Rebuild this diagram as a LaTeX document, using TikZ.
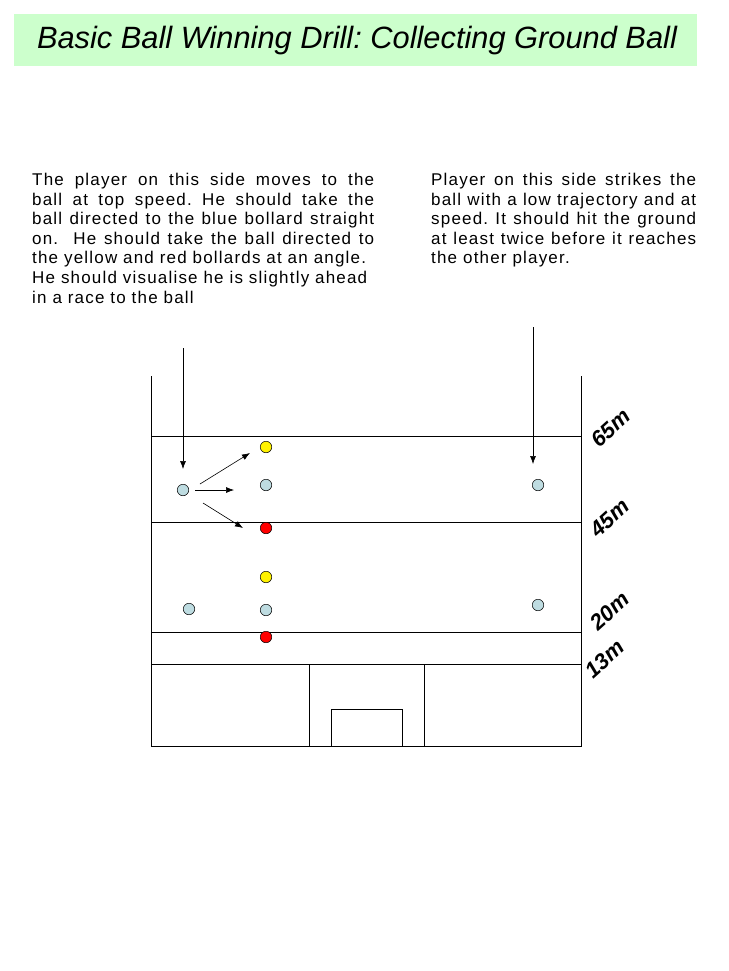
\documentclass[tikz,border=0pt]{standalone}
\usepackage{fontspec}
\setmainfont{Liberation Sans}
\newfontfamily\bodyf[LetterSpace=7]{Liberation Sans}
\usetikzlibrary{arrows.meta}
\frenchspacing
\newcommand{\jl}[1]{\makebox[342pt][s]{#1}\\}
\newcommand{\jr}[1]{\makebox[265pt][s]{#1}\\}
\begin{document}
\begin{tikzpicture}[x=1pt,y=-1pt,
  fld/.style={line width=0.9pt},
  ball/.style={circle,draw,line width=0.5pt,minimum size=11.5pt,inner sep=0pt},
  arr/.style={-{Latex[length=8pt,width=6pt]},line width=0.6pt},
  lbl/.style={font=\fontsize{22}{22}\selectfont\bfseries\itshape,rotate=42,inner sep=0pt}]
\useasboundingbox[fill=white] (0,0) rectangle (728,971);
\node[fill={rgb,255:red,204;green,255;blue,204},minimum width=683pt,minimum height=52pt,inner sep=0pt] (title) at (355.5,40) {};
\node[font=\fontsize{30.8}{30.8}\selectfont\itshape] (tt) at (357,41) {Basic Ball Winning Drill: Collecting Ground Ball};
\node[align=left,inner sep=0pt,anchor=north west,font=\bodyf\fontsize{17}{19.6}\selectfont] (lt) at (32,173)
{\jl{The player on this side moves to the}\jl{ball at top speed. He should take the}\jl{ball directed to the blue bollard straight}\jl{on.\ \ He should take the ball directed to}the yellow and red bollards at an angle.\\He should visualise he is slightly ahead\\in a race to the ball};
\node[align=left,inner sep=0pt,anchor=north west,font=\bodyf\fontsize{17}{19.6}\selectfont] (rt) at (431,173)
{\jr{Player on this side strikes the}\jr{ball with a low trajectory and at}\jr{speed. It should hit the ground}\jr{at least twice before it reaches}the other player.};
% field
\coordinate (tl) at (151,376); \coordinate (bl) at (151,746);
\coordinate (tr) at (581,376); \coordinate (br) at (581,746);
\draw[fld] (tl) -- (bl) -- (br) -- (tr);
\foreach \y in {436,522,632,664} \draw[fld] (151,\y) -- (581,\y);
\draw[fld] (309,664) -- (309,746);
\draw[fld] (424,664) -- (424,746);
\draw[fld] (331,746) -- (331,709) -- (402,709) -- (402,746);
% balls
\definecolor{lb}{RGB}{190,220,225}
\node[ball,fill=lb] (p1) at (183,490) {};
\node[ball,fill=yellow] (y1) at (266,447) {};
\node[ball,fill=lb] (b1) at (266,485) {};
\node[ball,fill=red] (r1) at (266,528) {};
\node[ball,fill=yellow] (y2) at (266,577) {};
\node[ball,fill=lb] (b2) at (266,610) {};
\node[ball,fill=red] (r2) at (266,637) {};
\node[ball,fill=lb] (p2) at (189,609) {};
\node[ball,fill=lb] (q1) at (538,485) {};
\node[ball,fill=lb] (q2) at (538,605) {};
% arrows
\coordinate (a1s) at (183,348); \coordinate (a1e) at (183,469);
\coordinate (a2s) at (533,327); \coordinate (a2e) at (533,464);
\draw[arr] (a1s) -- (a1e);
\draw[arr] (a2s) -- (a2e);
\coordinate (s1) at (200,484); \coordinate (e1) at (250,453);
\coordinate (s2) at (195,490); \coordinate (e2) at (234,490);
\coordinate (s3) at (203,503); \coordinate (e3) at (243,528);
\draw[arr] (s1) -- (e1);
\draw[arr] (s2) -- (e2);
\draw[arr] (s3) -- (e3);
% labels
\node[lbl] (l65) at (611,428) {65m};
\node[lbl] (l45) at (610,518) {45m};
\node[lbl] (l20) at (610,611) {20m};
\node[lbl] (l13) at (605,659) {13m};
\end{tikzpicture}
\end{document}
